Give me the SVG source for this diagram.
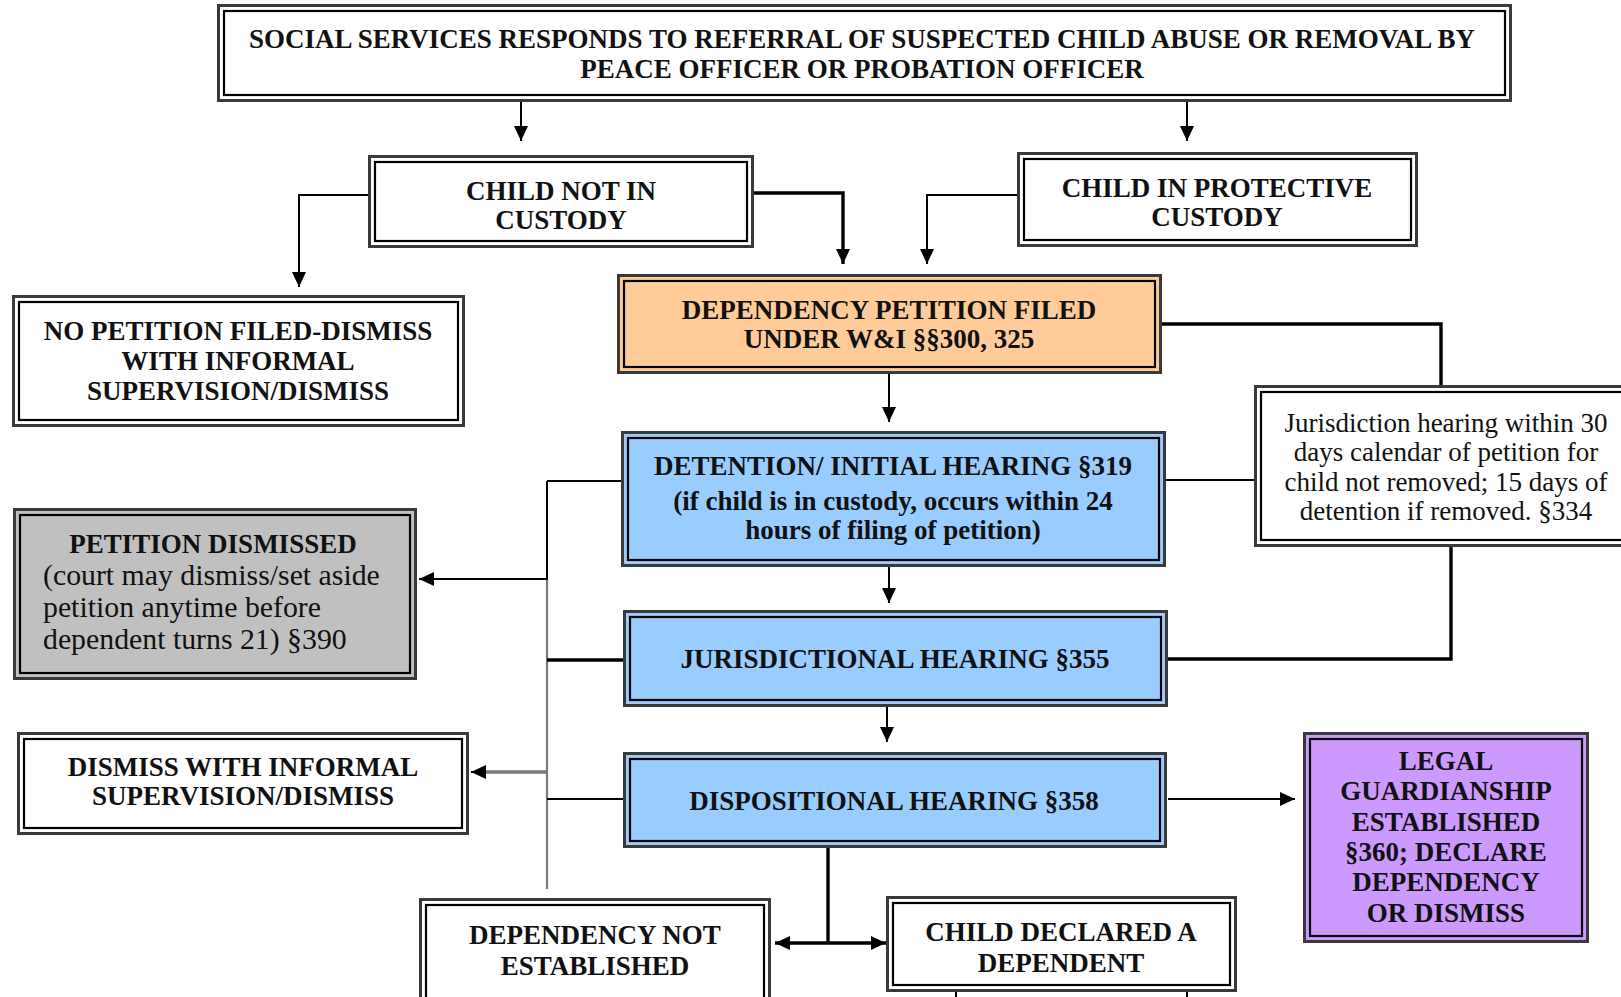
<svg xmlns="http://www.w3.org/2000/svg" width="1621" height="997" viewBox="0 0 1621 997">
<style>
.o{stroke:#3a3a3a;stroke-width:3}
.i{fill:none;stroke:#000;stroke-width:2.2}
.b{font-family:"Liberation Serif","Times New Roman",serif;font-weight:bold;font-size:27px;fill:#111;text-anchor:middle}
.r{font-family:"Liberation Serif","Times New Roman",serif;font-size:27px;fill:#111;text-anchor:middle}
.rl{font-family:"Liberation Serif","Times New Roman",serif;font-size:29.8px;fill:#111}
.c{fill:none;stroke:#000;stroke-width:2}
.t{stroke-width:3.4}
.g{stroke:#7a7a7a;stroke-width:3.4}
</style>
<defs>
<marker id="ah" markerUnits="userSpaceOnUse" markerWidth="15" markerHeight="14" refX="15" refY="7" orient="auto">
<path d="M0,0 L15,7 L0,14 z" fill="#000"/>
</marker>
</defs>
<rect width="1621" height="997" fill="#fff"/>

<g id="connectors">
<path class="c" d="M521,102 V141" marker-end="url(#ah)"/>
<path class="c" d="M1187,102 V141" marker-end="url(#ah)"/>
<path class="c" d="M368,195 H299 V287" marker-end="url(#ah)"/>
<path class="c t" d="M754,193 H843 V264" marker-end="url(#ah)"/>
<path class="c" d="M1017,195 H927 V264" marker-end="url(#ah)"/>
<path class="c t" d="M1162,324 H1441 V386"/>
<path class="c" d="M889,374 V422" marker-end="url(#ah)"/>
<path class="c" d="M1166,480 H1254"/>
<path class="c" d="M889,567 V603" marker-end="url(#ah)"/>
<path class="c t" d="M1451,547 V659 H1168"/>
<path class="c" d="M887,706 V742" marker-end="url(#ah)"/>
<path class="c" d="M1168,799 H1295" marker-end="url(#ah)"/>
<path class="c t" d="M828,848 V943"/>
<path class="c t" d="M828,943 H775" marker-end="url(#ah)"/>
<path class="c t" d="M828,943 H886" marker-end="url(#ah)"/>
<path class="c" d="M547,481 V580"/>
<path class="c g" d="M547,580 V889" style="stroke-width:2.2"/>
<path class="c" d="M622,481 H547"/>
<path class="c" d="M547,579 H419" marker-end="url(#ah)"/>
<path class="c t" d="M625,660 H547"/>
<path class="c g" d="M547,772 H483"/>
<path class="c" d="M484,772 H471" marker-end="url(#ah)"/>
<path class="c" d="M624,799 H547"/>
<path class="c" d="M956,992 V997 M1187,992 V997"/>
</g>

<g id="n-top">
<rect class="o" x="218.5" y="5.5" width="1292" height="95" fill="#fff"/>
<rect class="i" x="224" y="11" width="1281" height="84"/>
<text class="b" x="862" y="48">SOCIAL SERVICES RESPONDS TO REFERRAL OF SUSPECTED CHILD ABUSE OR REMOVAL BY</text>
<text class="b" x="862" y="78">PEACE OFFICER OR PROBATION OFFICER</text>
</g>

<g id="n-notcustody">
<rect class="o" x="369.5" y="156.5" width="383" height="90" fill="#fff"/>
<rect class="i" x="375" y="162" width="372" height="79"/>
<text class="b" x="561" y="200">CHILD NOT IN</text>
<text class="b" x="561" y="229">CUSTODY</text>
</g>

<g id="n-protective">
<rect class="o" x="1018.5" y="153.5" width="398" height="92" fill="#fff"/>
<rect class="i" x="1024" y="159" width="387" height="81"/>
<text class="b" x="1217" y="197">CHILD IN PROTECTIVE</text>
<text class="b" x="1217" y="226">CUSTODY</text>
</g>

<g id="n-nopetition">
<rect class="o" x="13.5" y="296.5" width="450" height="129" fill="#fff"/>
<rect class="i" x="19" y="302" width="439" height="118"/>
<text class="b" x="238" y="340">NO PETITION FILED-DISMISS</text>
<text class="b" x="238" y="370">WITH INFORMAL</text>
<text class="b" x="238" y="400">SUPERVISION/DISMISS</text>
</g>

<g id="n-petition">
<rect class="o" x="618.5" y="275.5" width="542" height="97" fill="#FFCC99"/>
<rect class="i" x="624" y="281" width="531" height="86"/>
<text class="b" x="889" y="319">DEPENDENCY PETITION FILED</text>
<text class="b" x="889" y="348">UNDER W&amp;I §§300, 325</text>
</g>

<g id="n-note">
<rect class="o" x="1255.5" y="386.5" width="380" height="159" fill="#fff"/>
<rect class="i" x="1261" y="392" width="369" height="148"/>
<text class="r" x="1446" y="432">Jurisdiction hearing within 30</text>
<text class="r" x="1446" y="461">days calendar of petition for</text>
<text class="r" x="1446" y="491">child not removed; 15 days of</text>
<text class="r" x="1446" y="520">detention if removed. §334</text>
</g>

<g id="n-detention">
<rect class="o" x="622.5" y="432.5" width="542" height="133" fill="#99CCFF"/>
<rect class="i" x="628" y="438" width="531" height="122"/>
<text class="b" x="893" y="475">DETENTION/ INITIAL HEARING §319</text>
<text class="b" x="893" y="510">(if child is in custody, occurs within 24</text>
<text class="b" x="893" y="539">hours of filing of petition)</text>
</g>

<g id="n-dismissed">
<rect class="o" x="14.5" y="509.5" width="401" height="169" fill="#C0C0C0"/>
<rect class="i" x="20" y="515" width="390" height="158"/>
<text class="b" x="213" y="553">PETITION DISMISSED</text>
<text class="rl" x="43" y="585">(court may dismiss/set aside</text>
<text class="rl" x="43" y="617">petition anytime before</text>
<text class="rl" x="43" y="649">dependent turns 21) §390</text>
</g>

<g id="n-jurisdictional">
<rect class="o" x="624.5" y="611.5" width="542" height="94" fill="#99CCFF"/>
<rect class="i" x="630" y="617" width="531" height="83"/>
<text class="b" x="895" y="668">JURISDICTIONAL HEARING §355</text>
</g>

<g id="n-informal">
<rect class="o" x="18.5" y="733.5" width="449" height="100" fill="#fff"/>
<rect class="i" x="24" y="739" width="438" height="89"/>
<text class="b" x="243" y="776">DISMISS WITH INFORMAL</text>
<text class="b" x="243" y="805">SUPERVISION/DISMISS</text>
</g>

<g id="n-dispositional">
<rect class="o" x="624.5" y="753.5" width="541" height="93" fill="#99CCFF"/>
<rect class="i" x="630" y="759" width="530" height="82"/>
<text class="b" x="894" y="810">DISPOSITIONAL HEARING §358</text>
</g>

<g id="n-legal">
<rect class="o" x="1304.5" y="733.5" width="283" height="208" fill="#CC99FF"/>
<rect class="i" x="1310" y="739" width="272" height="197"/>
<text class="b" x="1446" y="770">LEGAL</text>
<text class="b" x="1446" y="800">GUARDIANSHIP</text>
<text class="b" x="1446" y="831">ESTABLISHED</text>
<text class="b" x="1446" y="861">§360; DECLARE</text>
<text class="b" x="1446" y="891">DEPENDENCY</text>
<text class="b" x="1446" y="922">OR DISMISS</text>
</g>

<g id="n-notestablished">
<rect class="o" x="420.5" y="899.5" width="349" height="110" fill="#fff"/>
<rect class="i" x="426" y="905" width="338" height="99"/>
<text class="b" x="595" y="944">DEPENDENCY NOT</text>
<text class="b" x="595" y="975">ESTABLISHED</text>
</g>

<g id="n-dependent">
<rect class="o" x="887.5" y="897.5" width="348" height="93" fill="#fff"/>
<rect class="i" x="893" y="903" width="337" height="82"/>
<text class="b" x="1061" y="941">CHILD DECLARED A</text>
<text class="b" x="1061" y="972">DEPENDENT</text>
</g>
</svg>
